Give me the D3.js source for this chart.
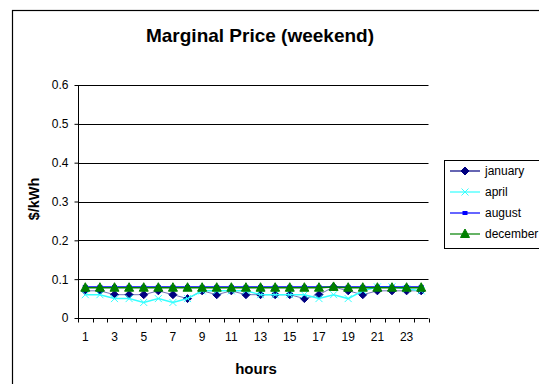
<!DOCTYPE html>
<html><head><meta charset="utf-8">
<script src="https://cdn.jsdelivr.net/npm/d3@7"></script>
<style>body{margin:0;background:#fff}svg{display:block;font-family:"Liberation Sans",Arial,sans-serif}</style>
</head><body><div id="chart"></div>
<script>
const hours = d3.range(1, 25);
const january  = [0.07,0.07,0.06,0.06,0.06,0.07,0.06,0.05,0.07,0.06,0.07,0.06,0.06,0.06,0.06,0.05,0.06,0.08,0.07,0.06,0.07,0.07,0.07,0.07];
const april    = [0.06,0.06,0.05,0.05,0.04,0.05,0.04,0.05,0.07,0.07,0.07,0.07,0.06,0.06,0.06,0.06,0.05,0.06,0.05,0.07,0.08,0.08,0.075,0.07];
const august   = [0.08,0.08,0.08,0.08,0.08,0.08,0.08,0.08,0.08,0.08,0.08,0.08,0.08,0.08,0.08,0.08,0.08,0.08,0.08,0.08,0.08,0.08,0.08,0.08];
const december = [0.078,0.078,0.078,0.078,0.078,0.078,0.078,0.078,0.078,0.078,0.078,0.078,0.078,0.078,0.078,0.078,0.078,0.08,0.078,0.078,0.078,0.078,0.078,0.078];
const yTicks = [0, 0.1, 0.2, 0.3, 0.4, 0.5, 0.6];
const xTickLabels = [1,3,5,7,9,11,13,15,17,19,21,23];

const series = [
  {name:"january", values:january, color:"#000080", marker:"diamond"},
  {name:"april", values:april, color:"#33ffff", marker:"x"},
  {name:"august", values:august, color:"#0000ff", marker:"square"},
  {name:"december", values:december, color:"#008000", marker:"triangle"}
];

const W = 539, H = 384;
const svg = d3.select("#chart").append("svg").attr("width", W).attr("height", H);
svg.append("rect").attr("width", W).attr("height", H).attr("fill", "#fff");
svg.append("rect").attr("x", 12.5).attr("y", 10.5).attr("width", 560).attr("height", 400)
  .attr("fill", "none").attr("stroke", "#000").attr("stroke-width", 1.2);

const L = 78, R = 428.5, T = 85, B = 318;
const x = d3.scaleBand().domain(hours).range([L, R]);
const y = d3.scaleLinear().domain([0, 0.6]).range([B, T]);

svg.append("g").selectAll("line").data(yTicks.filter(d => d > 0)).join("line")
  .attr("x1", L).attr("x2", R).attr("y1", d => Math.round(y(d)) + 0.5).attr("y2", d => Math.round(y(d)) + 0.5)
  .attr("stroke", "#000").attr("stroke-width", 1);

const yAxis = d3.axisLeft(y).tickValues(yTicks).tickFormat(d => d === 0 ? "0" : d3.format(".1f")(d)).tickSize(4).tickPadding(6);
const gy = svg.append("g").attr("transform", `translate(${L + 0.5},0)`).call(yAxis);
gy.selectAll("text").attr("font-size", 12).attr("fill", "#000").attr("font-family", "Liberation Sans, Arial, sans-serif");
gy.selectAll("line, path").attr("stroke", "#000");
gy.select(".domain").attr("d", `M0,${T}V${B}`);

const gx = svg.append("g").attr("transform", `translate(0,${B + 0.5})`);
gx.append("line").attr("x1", L).attr("x2", R).attr("stroke", "#000");
gx.selectAll(".tk").data(d3.range(0, 25)).join("line").attr("class", "tk")
  .attr("x1", i => Math.round(L + i * x.step()) + 0.5).attr("x2", i => Math.round(L + i * x.step()) + 0.5)
  .attr("y1", 0).attr("y2", 4).attr("stroke", "#000");
gx.selectAll("text").data(xTickLabels).join("text")
  .attr("x", d => x(d) + x.bandwidth() / 2).attr("y", 22)
  .attr("text-anchor", "middle").attr("font-size", 12).attr("fill", "#000").text(d => d);

svg.append("text").attr("x", 260).attr("y", 42).attr("text-anchor", "middle")
  .attr("font-size", 19).attr("font-weight", "bold").text("Marginal Price (weekend)");
svg.append("text").attr("x", 256).attr("y", 374).attr("text-anchor", "middle")
  .attr("font-size", 15).attr("font-weight", "bold").text("hours");
svg.append("text").attr("transform", "translate(39,199) rotate(-90)").attr("text-anchor", "middle")
  .attr("font-size", 14.5).attr("font-weight", "bold").text("$/kWh");

function drawMarker(g, type, color, cx, cy) {
  if (type === "diamond") {
    g.append("path").attr("d", `M${cx},${cy-4}L${cx+4},${cy}L${cx},${cy+4}L${cx-4},${cy}Z`).attr("fill", color).attr("stroke", color);
  } else if (type === "x") {
    g.append("path").attr("d", `M${cx-3.5},${cy-3.5}L${cx+3.5},${cy+3.5}M${cx-3.5},${cy+3.5}L${cx+3.5},${cy-3.5}`).attr("stroke", color).attr("stroke-width", 1);
  } else if (type === "square") {
    g.append("rect").attr("x", cx - 2.5).attr("y", cy - 2).attr("width", 5).attr("height", 4).attr("fill", color);
  } else if (type === "triangle") {
    g.append("path").attr("d", `M${cx},${cy-5}L${cx+4.5},${cy+3.5}L${cx-4.5},${cy+3.5}Z`).attr("fill", color).attr("stroke", color);
  }
}

const line = d3.line().x((d, i) => x(hours[i]) + x.bandwidth() / 2).y(d => y(d));
series.forEach(s => {
  const g = svg.append("g");
  g.append("path").datum(s.values).attr("d", line).attr("fill", "none")
    .attr("stroke", s.color).attr("stroke-width", s.name === "january" ? 1 : 1.5)
    .attr("stroke-opacity", s.name === "january" ? 0.55 : 1);
  s.values.forEach((v, i) => drawMarker(g, s.marker, s.color, x(hours[i]) + x.bandwidth() / 2, y(v)));
});

const lg = svg.append("g");
lg.append("rect").attr("x", 444.5).attr("y", 160.5).attr("width", 120).attr("height", 88)
  .attr("fill", "#fff").attr("stroke", "#000");
series.forEach((s, i) => {
  const cy = 171 + i * 21;
  lg.append("line").attr("x1", 450).attr("x2", 480).attr("y1", cy).attr("y2", cy).attr("stroke", s.color).attr("stroke-width", 1.2);
  drawMarker(lg, s.marker, s.color, 465, cy);
  lg.append("text").attr("x", 485).attr("y", cy + 4).attr("font-size", 12).text(s.name);
});
</script></body></html>
